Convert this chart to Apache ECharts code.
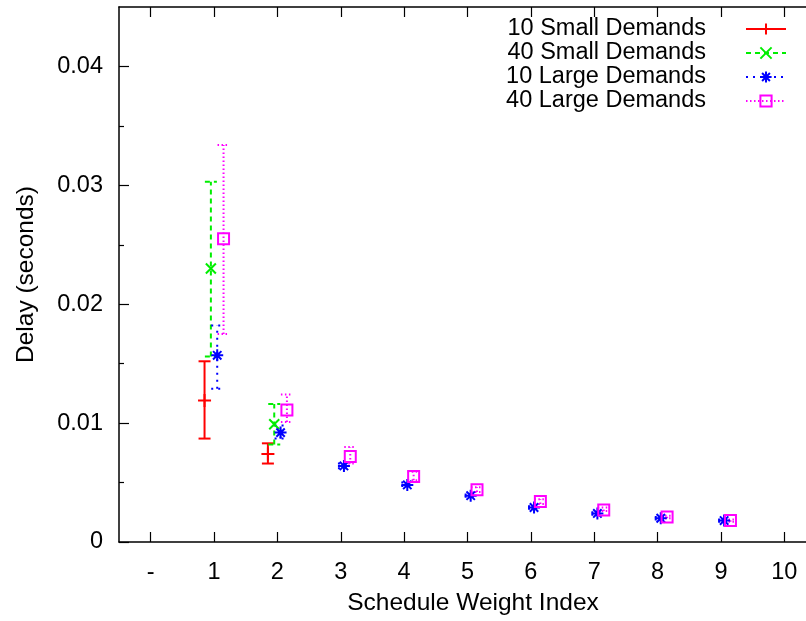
<!DOCTYPE html>
<html>
<head>
<meta charset="utf-8">
<script src="https://cdn.jsdelivr.net/npm/echarts@6/dist/echarts.min.js"></script>
<style>
  html, body { margin: 0; padding: 0; background: #fff; }
  #chart { width: 806px; height: 621px; }
</style>
</head>
<body>
<div id="chart"></div>
<script>
// Schedule weight indices and tick labels
const weightIndex = [1, 2, 3, 4, 5, 6, 7, 8, 9];
const xTickValues = [0, 1, 2, 3, 4, 5, 6, 7, 8, 9, 10];
const xTickLabels = ['-', '1', '2', '3', '4', '5', '6', '7', '8', '9', '10'];
const yMajorTicks = [0, 0.01, 0.02, 0.03, 0.04];
const yMinorTicks = [0.005, 0.015, 0.025, 0.035];

// 10 Small Demands (mean delay, lower and upper bounds, seconds)
const small10Mean = [0.0119, 0.0074];
const small10Low  = [0.0087, 0.0066];
const small10High = [0.0152, 0.0083];

// 40 Small Demands
const small40Mean = [0.0230, 0.0099];
const small40Low  = [0.0156, 0.0082];
const small40High = [0.0303, 0.0116];

// 10 Large Demands
const large10Mean = [0.0157, 0.0092, 0.0064, 0.0048, 0.0039, 0.0029, 0.0024, 0.0020, 0.0018];
const large10Low  = [0.0129, 0.0087, 0.0062, 0.0047, 0.0038, 0.0028, 0.0023, 0.0019, 0.0017];
const large10High = [0.0182, 0.0098, 0.0066, 0.0050, 0.0040, 0.0030, 0.0025, 0.0021, 0.0019];

// 40 Large Demands
const large40Mean = [0.0255, 0.0111, 0.0072, 0.0055, 0.0044, 0.0034, 0.0027, 0.0021, 0.0018];
const large40Low  = [0.0175, 0.0101, 0.0066, 0.0052, 0.0042, 0.0032, 0.0026, 0.0020, 0.0017];
const large40High = [0.0334, 0.0124, 0.0080, 0.0059, 0.0046, 0.0036, 0.0029, 0.0022, 0.0019];

const FONT = '"Liberation Sans", Arial, Helvetica, sans-serif';

const seriesDefs = [
  { name: '10 Small Demands', mean: small10Mean, low: small10Low, high: small10High,
    shift: -0.15, color: '#ff0000', dash: 'solid',
    symbol: 'path://M0,5L10,5M5,0L5,10', size: 13 },
  { name: '40 Small Demands', mean: small40Mean, low: small40Low, high: small40High,
    shift: -0.05, color: '#00ee00', dash: [5, 4],
    symbol: 'path://M0,0L10,10M0,10L10,0', size: 10 },
  { name: '10 Large Demands', mean: large10Mean, low: large10Low, high: large10High,
    shift: 0.05, color: '#0000ff', dash: [2, 5],
    symbol: 'path://M0,5L10,5M5,0L5,10M1.5,1.5L8.5,8.5M1.5,8.5L8.5,1.5', size: 12 },
  { name: '40 Large Demands', mean: large40Mean, low: large40Low, high: large40High,
    shift: 0.15, color: '#ff00ff', dash: [1.5, 2.5],
    symbol: 'rect', size: 11 }
];

function errorBarRenderer(color, dash) {
  return function (params, api) {
    const x = api.value(0);
    const pLo = api.coord([x, api.value(1)]);
    const pHi = api.coord([x, api.value(2)]);
    const cap = 6;
    const style = {
      stroke: color, lineWidth: 2, fill: null,
      lineDash: dash === 'solid' ? null : dash
    };
    return {
      type: 'group',
      children: [
        { type: 'line', shape: { x1: pLo[0], y1: pLo[1], x2: pHi[0], y2: pHi[1] }, style: style },
        { type: 'line', shape: { x1: pHi[0] - cap, y1: pHi[1], x2: pHi[0] + cap, y2: pHi[1] }, style: style },
        { type: 'line', shape: { x1: pLo[0] - cap, y1: pLo[1], x2: pLo[0] + cap, y2: pLo[1] }, style: style }
      ]
    };
  };
}

const series = [];
// marker series first so the legend takes its look from them
seriesDefs.forEach(function (d) {
  series.push({
    name: d.name,
    type: 'line',
    xAxisIndex: 0,
    yAxisIndex: 0,
    data: d.mean.map(function (v, i) { return [weightIndex[i] + d.shift, v]; }),
    symbol: d.symbol,
    symbolSize: d.size,
    showSymbol: true,
    lineStyle: { opacity: 0 },
    itemStyle: { color: 'rgba(0,0,0,0)', borderColor: d.color, borderWidth: 2 },
    emphasis: { disabled: true },
    z: 3
  });
});
seriesDefs.forEach(function (d) {
  series.push({
    name: d.name,
    type: 'custom',
    xAxisIndex: 0,
    yAxisIndex: 0,
    renderItem: errorBarRenderer(d.color, d.dash),
    encode: { x: 0, y: [1, 2] },
    data: d.mean.map(function (v, i) { return [weightIndex[i] + d.shift, d.low[i], d.high[i]]; }),
    z: 2
  });
});

const frameLine = { show: true, onZero: false, lineStyle: { color: '#000', width: 1.5 } };
const tickLine = { color: '#000', width: 1.2 };

const axisBase = {
  min: 0, max: 0.045,
  splitLine: { show: false },
  axisLine: frameLine
};

const chart = echarts.init(document.getElementById('chart'), null, { renderer: 'canvas' });
chart.setOption({
  animation: false,
  backgroundColor: '#ffffff',
  grid: { left: 119, top: 7, width: 697, height: 535, containLabel: false, outerBoundsMode: 'none' },
  legend: {
    orient: 'vertical',
    align: 'right',
    right: 14,
    top: 12,
    itemWidth: 40,
    itemHeight: 14,
    itemGap: 0,
    selectedMode: false,
    textStyle: { fontFamily: FONT, fontSize: 23.5, color: '#000', lineHeight: 24, padding: [0, 35, 0, 0] },
    data: seriesDefs.map(function (d) {
      return {
        name: d.name,
        itemStyle: { color: 'rgba(0,0,0,0)', borderColor: d.color, borderWidth: 2 },
        lineStyle: { color: d.color, width: 2, type: d.dash, opacity: 1 }
      };
    })
  },
  xAxis: [
    {
      type: 'value', position: 'bottom', min: -0.5, max: 10.5,
      name: 'Schedule Weight Index', nameLocation: 'middle', nameGap: 49,
      nameTextStyle: { fontFamily: FONT, fontSize: 24.5, color: '#000', padding: [0, 0, 0, 11] },
      splitLine: { show: false },
      axisLine: frameLine,
      axisTick: { show: true, inside: true, length: 10, customValues: xTickValues, lineStyle: tickLine },
      axisLabel: {
        show: true, customValues: xTickValues, margin: 19,
        fontFamily: FONT, fontSize: 23.5, color: '#000',
        formatter: function (v) { return xTickLabels[xTickValues.indexOf(Math.round(v))]; }
      }
    },
    {
      type: 'value', position: 'top', min: -0.5, max: 10.5,
      splitLine: { show: false },
      axisLine: frameLine,
      axisTick: { show: true, inside: true, length: 10, customValues: xTickValues, lineStyle: tickLine },
      axisLabel: { show: false }
    }
  ],
  yAxis: [
    Object.assign({}, axisBase, {
      type: 'value', position: 'left',
      name: 'Delay (seconds)', nameLocation: 'middle', nameGap: 80,
      nameTextStyle: { fontFamily: FONT, fontSize: 24.5, color: '#000' },
      axisTick: { show: true, inside: true, length: 10, customValues: yMajorTicks, lineStyle: tickLine },
      axisLabel: { show: true, customValues: yMajorTicks, margin: 16,
                   fontFamily: FONT, fontSize: 23.5, color: '#000',
                   formatter: function (v) { return String(v); } }
    }),
    Object.assign({}, axisBase, {
      type: 'value', position: 'left',
      axisLine: { show: false, onZero: false },
      axisTick: { show: true, inside: true, length: 5, customValues: yMinorTicks, lineStyle: tickLine },
      axisLabel: { show: false }
    }),
    Object.assign({}, axisBase, {
      type: 'value', position: 'right',
      axisTick: { show: true, inside: true, length: 10, customValues: yMajorTicks, lineStyle: tickLine },
      axisLabel: { show: false }
    }),
    Object.assign({}, axisBase, {
      type: 'value', position: 'right',
      axisLine: { show: false, onZero: false },
      axisTick: { show: true, inside: true, length: 5, customValues: yMinorTicks, lineStyle: tickLine },
      axisLabel: { show: false }
    })
  ],
  series: series
});
</script>
</body>
</html>
